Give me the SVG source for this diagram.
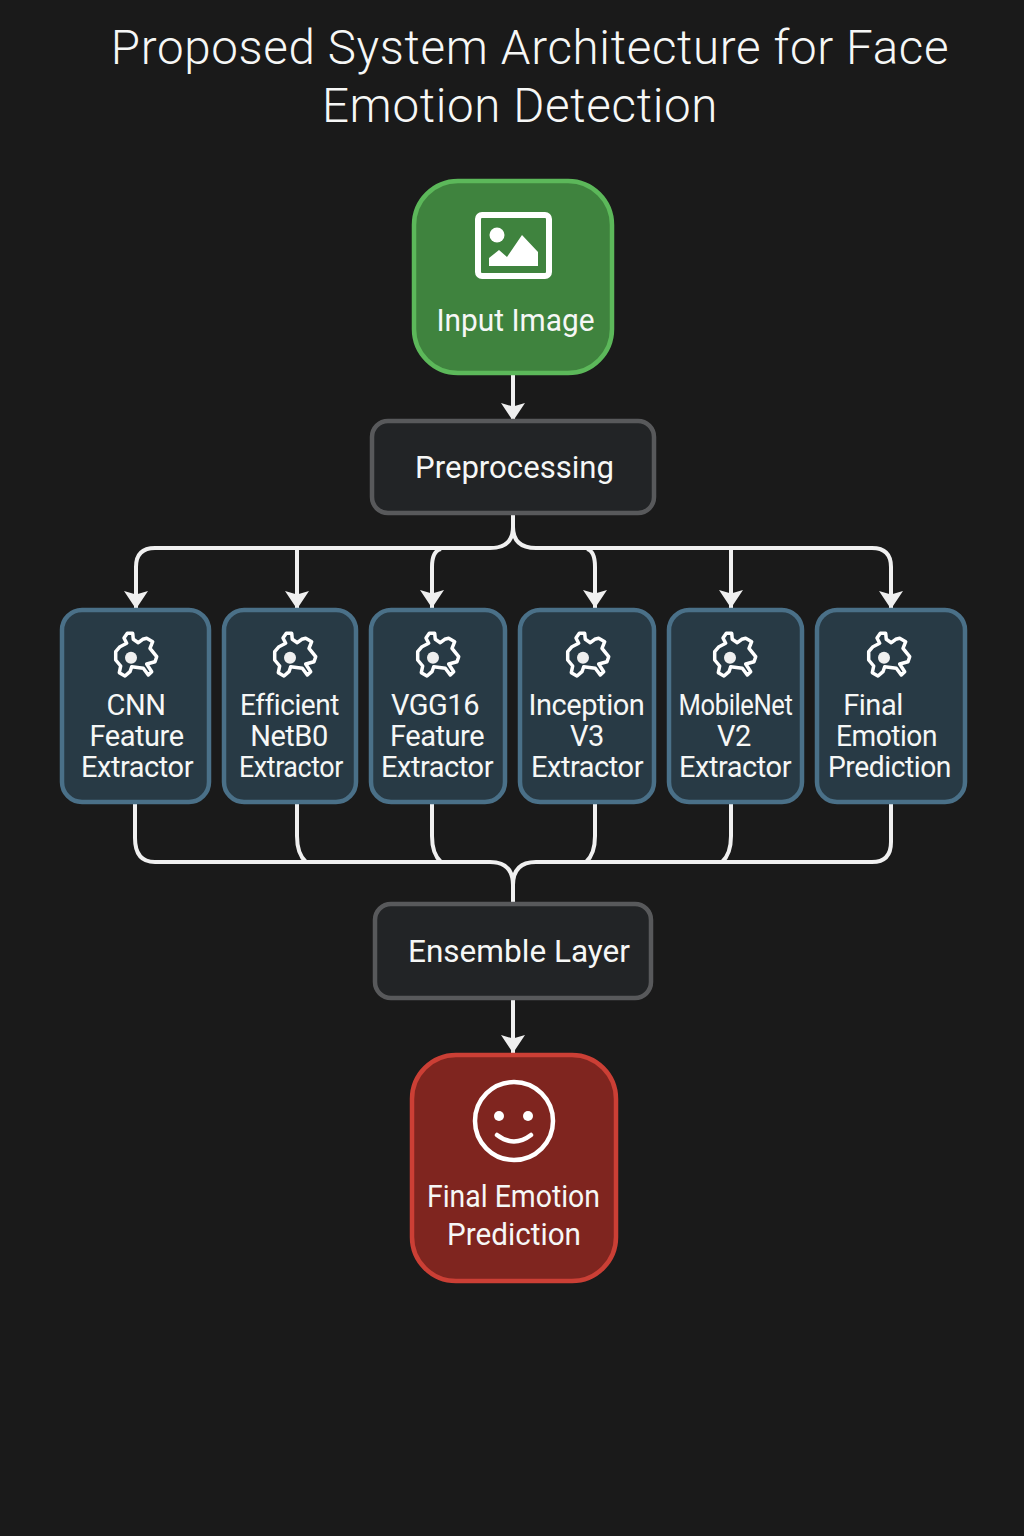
<svg xmlns="http://www.w3.org/2000/svg" width="1024" height="1536" viewBox="0 0 1024 1536">
<style>
text{font-family:"Roboto","Liberation Sans",Arial,sans-serif;fill:#f6f7f6;text-anchor:middle}
.t{font-size:47.500px;font-weight:300;letter-spacing:.67px}
.l{font-size:31px}
.m{font-size:29px;letter-spacing:-.45px}
.b{fill:#283a45;stroke:#4a7088;stroke-width:4.500}
.g{fill:#222426;stroke:#58595b;stroke-width:4.500}
.c{fill:none;stroke:#f0f0f0;stroke-width:4}
.i{fill:none;stroke:#fff;stroke-width:3.500;stroke-linejoin:round}
</style>
<defs>
<marker id="a" markerUnits="userSpaceOnUse" markerWidth="20" markerHeight="26" refX="18" refY="12" orient="auto"><path d="M0 0L18 12L0 24L3.500 12Z" fill="#efefef"/></marker>
<g id="gear"><path class="i" d="M-12 -17L-8.700 -21.700L-3.300 -21.700L-2.700 -15.700L2.300 -12.300L6.700 -15.700L10.700 -16.700L16.700 -13.300L14 -6.700L20.700 1.700L19 6.700L10.700 9L15.700 16.700L12.300 20L7.300 13.300L-4.300 11.700L-6 16.700L-11 21L-16.700 17.700L-15.300 11L-20.300 5L-20.300 -3.300L-16 -8.300L-9.300 -11.700Z"/><circle cx="-5" cy="2.700" r="6" fill="#f0f0f0"/></g>
</defs>
<rect width="1024" height="1536" fill="#1a1a1a"/>
<text class="t" x="530" y="64">Proposed System Architecture for Face</text>
<text class="t" x="520" y="122">Emotion Detection</text>
<g id="connectors">
<path class="c" d="M513 375V421" marker-end="url(#a)"/>
<path class="c" d="M513 515V527Q513 548 490 548H155Q136 548 136 567V609" marker-end="url(#a)"/>
<path class="c" d="M297 548V609" marker-end="url(#a)"/>
<path class="c" d="M441 549Q432 551 432 567V608" marker-end="url(#a)"/>
<path class="c" d="M513 527Q513 548 536 548H872Q891 548 891 567V609" marker-end="url(#a)"/>
<path class="c" d="M587 549Q595 551 595 567V608" marker-end="url(#a)"/>
<path class="c" d="M731 548V608" marker-end="url(#a)"/>
<path class="c" d="M135 804V838Q135 862 155 862H490Q513 862 513 885V903"/>
<path class="c" d="M297 804V836Q297 854 306 862"/>
<path class="c" d="M432 804V836Q432 854 441 862"/>
<path class="c" d="M891 804V842Q891 862 872 862H536Q513 862 513 885"/>
<path class="c" d="M595 804V836Q595 854 586 862"/>
<path class="c" d="M731 804V836Q731 854 722 862"/>
<path class="c" d="M513 999V1053" marker-end="url(#a)"/>
</g>
<g id="input"><rect x="414" y="181" width="198" height="192" rx="44" fill="#3f833e" stroke="#5cb85a" stroke-width="4.500"/>
<rect x="478" y="215" width="71" height="61" rx="4" fill="none" stroke="#fff" stroke-width="6"/><circle cx="497" cy="235" r="7.500" fill="#fff"/><path d="M489 266V258L499 250L507 257L522 235L538 252V266Z" fill="#fff"/>
<text class="l" x="515.500" y="331" textLength="158" lengthAdjust="spacingAndGlyphs">Input Image</text></g>
<g id="preprocessing"><rect class="g" x="372" y="421" width="282" height="92" rx="16"/><text class="l" x="514.500" y="478" textLength="199" lengthAdjust="spacingAndGlyphs">Preprocessing</text></g>
<g id="cnn"><rect class="b" x="62" y="610" width="147" height="192" rx="20"/><use href="#gear" x="136" y="655"/><text class="m" x="136" y="715">CNN</text><text class="m" x="136.500" y="746">Feature</text><text class="m" x="137" y="777">Extractor</text></g>
<g id="efficientnet"><rect class="b" x="224" y="610" width="132" height="192" rx="20"/><use href="#gear" x="295" y="655"/><text class="m" x="289.500" y="715" textLength="99" lengthAdjust="spacingAndGlyphs">Efficient</text><text class="m" x="289" y="746">NetB0</text><text class="m" x="291" y="777" textLength="104" lengthAdjust="spacingAndGlyphs">Extractor</text></g>
<g id="vgg16"><rect class="b" x="371" y="610" width="134" height="192" rx="20"/><use href="#gear" x="438" y="655"/><text class="m" x="435" y="715">VGG16</text><text class="m" x="437" y="746">Feature</text><text class="m" x="437" y="777">Extractor</text></g>
<g id="inception"><rect class="b" x="520" y="610" width="134" height="192" rx="20"/><use href="#gear" x="588" y="655"/><text class="m" x="586.500" y="715">Inception</text><text class="m" x="587" y="746">V3</text><text class="m" x="587" y="777">Extractor</text></g>
<g id="mobilenet"><rect class="b" x="669" y="610" width="133" height="192" rx="20"/><use href="#gear" x="735" y="655"/><text class="m" x="735.500" y="715" textLength="114" lengthAdjust="spacingAndGlyphs">MobileNet</text><text class="m" x="734" y="746">V2</text><text class="m" x="735" y="777">Extractor</text></g>
<g id="final-column"><rect class="b" x="817" y="610" width="148" height="192" rx="20"/><use href="#gear" x="889" y="655"/><text class="m" x="873" y="715">Final</text><text class="m" x="886.500" y="746" textLength="101" lengthAdjust="spacingAndGlyphs">Emotion</text><text class="m" x="889.500" y="777" textLength="123" lengthAdjust="spacingAndGlyphs">Prediction</text></g>
<g id="ensemble"><rect class="g" x="375" y="904" width="276" height="94" rx="16"/><text class="l" x="519" y="962" textLength="222" lengthAdjust="spacingAndGlyphs">Ensemble Layer</text></g>
<g id="prediction"><rect x="412" y="1055" width="204" height="226" rx="44" fill="#7f251f" stroke="#cb3f35" stroke-width="4.500"/>
<circle cx="514" cy="1121" r="39" fill="none" stroke="#fff" stroke-width="4.500"/><circle cx="499" cy="1116" r="5" fill="#fff"/><circle cx="528" cy="1116" r="5" fill="#fff"/><path d="M497 1135Q514 1148 531 1135" fill="none" stroke="#fff" stroke-width="4.500" stroke-linecap="round"/>
<text class="l" x="513.500" y="1207" textLength="173" lengthAdjust="spacingAndGlyphs">Final Emotion</text><text class="l" x="514" y="1245" textLength="134" lengthAdjust="spacingAndGlyphs">Prediction</text></g>
</svg>
